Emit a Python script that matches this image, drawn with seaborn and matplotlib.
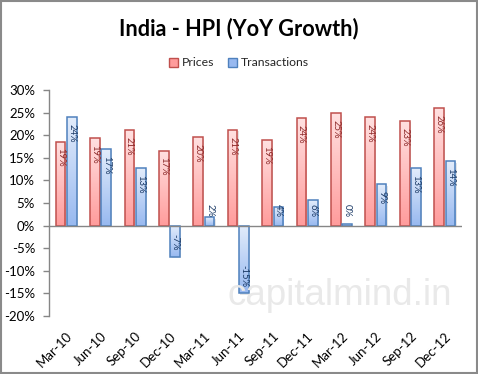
import numpy as np
import pandas as pd
import matplotlib
matplotlib.use("Agg")
import matplotlib.pyplot as plt
import matplotlib.patches as mpatches
from matplotlib.colors import LinearSegmentedColormap
import seaborn as sns

# ---- data ----
quarters = ["Mar-10", "Jun-10", "Sep-10", "Dec-10", "Mar-11", "Jun-11",
            "Sep-11", "Dec-11", "Mar-12", "Jun-12", "Sep-12", "Dec-12"]
prices = [18.6, 19.4, 21.2, 16.6, 19.6, 21.2, 19.0, 23.8, 24.9, 24.0, 23.2, 26.0]
transactions = [24.0, 17.0, 12.8, -6.9, 1.9, -15.0, 4.1, 5.7, 0.3, 9.2, 12.8, 14.3]
series_names = ["Prices", "Transactions"]
yticks = [-20, -15, -10, -5, 0, 5, 10, 15, 20, 25, 30]

df = pd.DataFrame({
    "Quarter": quarters * 2,
    "Series": [series_names[0]] * len(quarters) + [series_names[1]] * len(quarters),
    "Value": prices + transactions,
})

edge_cols = {"Prices": "#c0504d", "Transactions": "#4f81bd"}
grad_cols = {"Prices": ("#ffe0e0", "#ff9c9c"), "Transactions": ("#e2ecfb", "#98b9f0")}
label_cols = {"Prices": "#8e2b2b", "Transactions": "#1b3a66"}

sns.set_theme(style="white")
plt.rcParams["font.family"] = ["Lato", "DejaVu Sans"]

fig = plt.figure(figsize=(4.78, 3.74), dpi=100)
ax = fig.add_axes([49 / 478, 1 - 316 / 374, (462 - 49) / 478, (316 - 90) / 374])

sns.barplot(data=df, x="Quarter", y="Value", hue="Series", order=quarters,
            hue_order=series_names, palette=["#ffbcbc", "#bcd2f6"],
            width=0.66, gap=0.15, ax=ax, legend=False, errorbar=None,
            saturation=1)

ax.set_ylim(-20, 30)
ax.set_xlim(-0.5, len(quarters) - 0.5)

# gradient fills + shadows + labels
n = len(quarters)
for i, patch in enumerate(ax.patches[:2 * n]):
    s = series_names[i // n]
    val = df["Value"].iloc[i]
    x, y = patch.get_x(), patch.get_y()
    w, h = patch.get_width(), patch.get_height()
    y0, y1 = min(y, y + h), max(y, y + h)
    cmap = LinearSegmentedColormap.from_list("g", [grad_cols[s][1], grad_cols[s][0]])
    grad = np.linspace(0, 1, 64).reshape(-1, 1)
    im = ax.imshow(grad, extent=[x, x + w, y0, y1], origin="lower",
                   cmap=cmap, aspect="auto", zorder=2.5, interpolation="bicubic")
    im.set_clip_path(patch)
    patch.set_facecolor("none")
    patch.set_edgecolor(edge_cols[s])
    patch.set_linewidth(1.1)
    patch.set_zorder(3)
    # shadow
    sh = mpatches.Rectangle((x + 0.035, y0 - 0.35), w, y1 - y0, facecolor="#000000",
                            alpha=0.10, edgecolor="none", zorder=2)
    ax.add_patch(sh)
    # label
    txt = f"{val:.0f}%"
    cx = x + w / 2
    if val >= 0:
        ypos = max(val - 1.5, 4.7)
        ax.text(cx, ypos, txt, rotation=270, ha="center", va="top",
                fontsize=6.8, color=label_cols[s], zorder=5)
    else:
        ax.text(cx, val + 1.4, txt, rotation=270, ha="center", va="bottom",
                fontsize=6.8, color=label_cols[s], zorder=5)

ax.set_ylim(-20, 30)
ax.set_xlim(-0.5, len(quarters) - 0.5)

ax.axhline(0, color="#868686", lw=1.0, zorder=4)
ax.set_yticks(yticks)
ax.set_yticklabels([f"{t}%" for t in yticks])
ax.set_xlabel("")
ax.set_ylabel("")
for sp in ["top", "right", "bottom"]:
    ax.spines[sp].set_visible(False)
ax.spines["left"].set_color("#868686")
ax.spines["left"].set_linewidth(1.0)
ax.tick_params(axis="y", which="both", left=True, length=4, width=1,
               color="#868686", labelsize=9.5, pad=6, labelcolor="#000000")
ax.tick_params(axis="x", bottom=False, labelsize=9.5, pad=4, labelcolor="#000000")
plt.setp(ax.get_xticklabels(), rotation=45, ha="right", rotation_mode="anchor")
ax.set_facecolor("white")

# title and legend
fig.text(0.5, 0.925, "India - HPI (YoY Growth)", ha="center", va="center",
         fontsize=15.6, fontweight="bold", color="#000000")
handles = [mpatches.Patch(facecolor=grad_cols[s][1], edgecolor=edge_cols[s], label=s)
           for s in series_names]
fig.legend(handles=handles, loc="center", bbox_to_anchor=(0.5, 0.832), ncol=2,
           frameon=False, fontsize=8.8, handlelength=0.75, handleheight=0.75,
           handletextpad=0.3, columnspacing=1.1)

# watermark
fig.text(0.71, 0.21, "capitalmind.in", ha="center", va="center", fontsize=26.5,
         family="Liberation Sans", color="#e9e9e9", zorder=0)

# border
fig.patches.append(mpatches.Rectangle((0.002, 0.003), 0.995, 0.993,
                                      transform=fig.transFigure, fill=False,
                                      edgecolor="#8a8a8a", linewidth=1.5))

fig.savefig("out.png", dpi=100, facecolor="white")
